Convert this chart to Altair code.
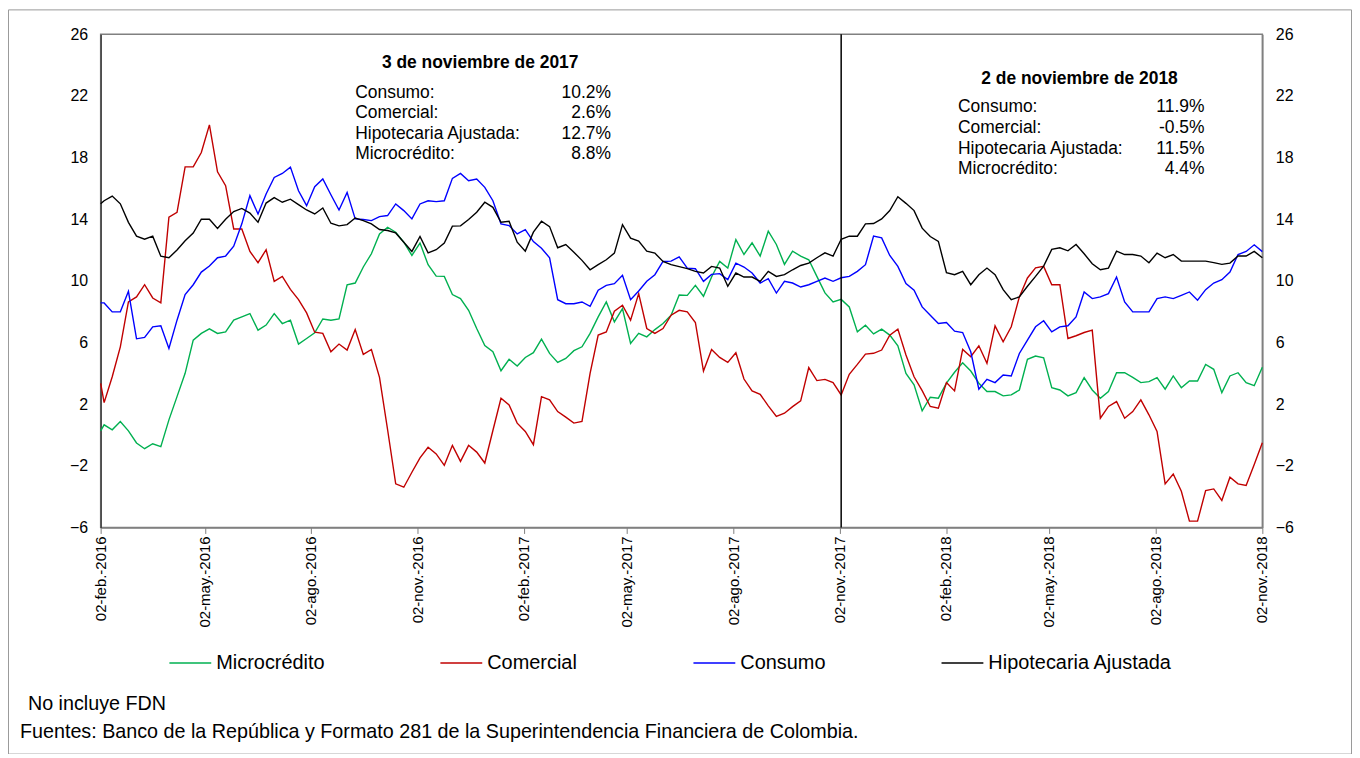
import altair as alt
import pandas as pd

# ---------------- data ----------------
# first point at the left edge (02-feb-2016), then weekly Fridays to 02-nov-2018
fechas = ["2016-02-02"] + [d.strftime("%Y-%m-%d") for d in pd.date_range("2016-02-05", "2018-11-02", freq="7D")]

hipotecaria = [15.0,
    15.2, 15.5, 15.0, 13.8, 12.9, 12.7, 12.9, 11.6, 11.5, 12.0, 12.6, 13.1,
    14.0, 14.0, 13.4, 14.0, 14.5, 14.7, 14.4, 13.8, 15.05, 15.4, 15.1, 15.3,
    14.95, 14.6, 14.34, 14.73, 13.74, 13.57, 13.65, 14.08, 13.91, 13.7, 13.33, 13.27,
    13.11, 12.51, 11.91, 12.88, 11.82, 12.02, 12.45, 13.55, 13.57, 13.98, 14.45, 15.1,
    14.77, 13.8, 13.87, 12.51, 11.93, 13.16, 13.87, 13.52, 12.15, 12.36, 11.86, 11.33,
    10.72, 11.05, 11.37, 11.8, 13.65, 12.77, 12.58, 11.93, 11.8, 11.26, 11.05, 10.92,
    10.79, 10.62, 10.51, 10.94, 10.83, 9.65, 10.51, 10.25, 10.25, 9.97, 10.62, 10.29,
    10.4, 10.72, 11.0, 11.15, 11.5, 11.82, 11.61, 12.7, 12.9, 12.9, 13.7, 13.72,
    14.02, 14.56, 15.46, 15.03, 14.56, 13.42, 12.88, 12.56, 10.53, 10.4, 10.62, 9.75,
    10.4, 10.83, 10.4, 9.43, 8.78, 8.96, 9.65, 10.29, 10.96, 12.04, 12.15, 11.95,
    12.36, 11.76, 11.11, 10.72, 10.83, 11.93, 11.71, 11.71, 11.61, 11.18, 11.8, 11.5,
    11.71, 11.28, 11.28, 11.28, 11.28, 11.18, 11.07, 11.15, 11.61, 11.61, 11.91, 11.5]

consumo = [8.57,
    8.57, 7.99, 7.99, 9.32, 6.24, 6.33, 7.02, 7.08, 5.62, 7.45, 9.11, 9.75,
    10.57, 10.96, 11.5, 11.61, 12.25, 13.7, 15.53, 14.34, 15.64, 16.71, 16.97, 17.38,
    15.85, 14.88, 16.11, 16.61, 15.59, 14.6, 15.74, 14.02, 13.98, 13.91, 14.17, 14.24,
    14.99, 14.56, 14.02, 14.99, 15.2, 15.14, 15.2, 16.65, 16.97, 16.5, 16.61, 16.07,
    15.2, 13.7, 13.59, 13.05, 13.33, 12.55, 12.12, 11.5, 8.78, 8.52, 8.52, 8.63,
    8.35, 9.39, 9.71, 9.82, 10.36, 8.78, 9.34, 9.97, 10.4, 11.26, 11.28, 11.56,
    10.83, 10.79, 9.97, 10.42, 10.47, 10.08, 11.15, 10.9, 10.51, 9.86, 10.14, 9.21,
    9.97, 9.86, 9.6, 9.75, 9.97, 10.18, 9.97, 10.2, 10.29, 10.62, 11.05, 12.9,
    12.79, 11.65, 10.94, 9.82, 9.39, 8.31, 7.77, 7.23, 7.3, 6.74, 6.65, 5.4,
    2.97, 3.61, 3.4, 3.89, 3.83, 5.29, 6.16, 7.02, 7.41, 6.69, 7.02, 7.09,
    7.66, 9.28, 8.85, 8.96, 9.17, 10.25, 8.63, 7.99, 7.99, 7.99, 8.85, 8.96,
    8.85, 9.06, 9.28, 8.74, 9.43, 9.86, 10.08, 10.57, 11.71, 11.91, 12.34, 11.9]

comercial = [3.35,
    2.1, 3.78, 5.72, 8.63, 8.96, 9.75, 8.89, 8.57, 14.13, 14.45, 17.4, 17.4,
    18.33, 20.12, 17.08, 16.18, 13.37, 13.37, 11.91, 11.18, 12.02, 9.97, 10.29, 9.45,
    8.78, 7.92, 6.67, 6.59, 5.4, 5.9, 5.51, 6.84, 5.23, 5.55, 3.74, 0.34,
    -3.17, -3.39, -2.42, -1.49, -0.8, -1.23, -1.97, -0.67, -1.71, -0.67, -1.11, -1.82,
    0.29, 2.38, 1.95, 0.77, 0.23, -0.63, 2.49, 2.28, 1.52, 1.16, 0.77, 0.88,
    4.0, 6.48, 6.69, 8.03, 8.42, 7.45, 9.17, 6.91, 6.59, 6.91, 7.77, 8.09,
    7.99, 7.3, 4.15, 5.55, 5.03, 4.71, 5.34, 3.63, 2.86, 2.64, 1.89, 1.2,
    1.41, 1.84, 2.21, 4.37, 3.53, 3.61, 3.4, 2.6, 3.94, 4.58, 5.25, 5.3,
    5.51, 6.48, 6.87, 5.19, 3.78, 2.88, 1.85, 1.74, 3.4, 2.86, 5.55, 5.08,
    5.79, 4.65, 7.08, 6.05, 7.02, 8.96, 10.19, 10.85, 10.94, 9.75, 9.75, 6.26,
    6.44, 6.65, 6.8, 1.09, 1.85, 2.17, 1.09, 1.52, 2.28, 1.31, 0.23, -3.17,
    -2.53, -3.65, -5.59, -5.59, -3.61, -3.5, -4.25, -2.74, -3.17, -3.28, -1.92, -0.5]

microcredito = [0.27,
    0.66, 0.34, 0.88, 0.27, -0.52, -0.89, -0.57, -0.76, 0.98, 2.49, 4.0, 6.15,
    6.59, 6.89, 6.59, 6.69, 7.45, 7.66, 7.88, 6.8, 7.13, 7.88, 7.23, 7.45,
    5.9, 6.26, 6.63, 7.53, 7.45, 7.53, 9.75, 9.86, 10.9, 11.76, 13.05, 13.48,
    13.16, 12.51, 11.65, 12.45, 11.05, 10.31, 10.29, 9.11, 8.85, 8.09, 6.91, 5.8,
    5.4, 4.17, 4.91, 4.47, 5.03, 5.34, 6.22, 5.29, 4.71, 4.97, 5.47, 5.72,
    6.59, 7.66, 8.63, 7.34, 8.2, 5.94, 6.59, 6.37, 6.84, 7.23, 7.77, 9.08,
    9.06, 9.71, 9.0, 10.25, 11.26, 10.83, 12.68, 11.71, 12.47, 11.61, 13.22, 12.36,
    11.07, 11.93, 11.61, 11.37, 10.29, 9.22, 8.63, 8.8, 8.31, 6.69, 7.12, 6.56,
    6.87, 6.48, 5.79, 4.0, 3.25, 1.57, 2.45, 2.39, 3.36, 4.07, 4.69, 4.15,
    3.36, 2.82, 2.82, 2.54, 2.6, 2.92, 4.91, 5.12, 5.01, 3.07, 2.92, 2.54,
    2.75, 3.72, 2.92, 2.38, 2.82, 4.04, 4.04, 3.74, 3.4, 3.46, 3.72, 2.97,
    3.83, 3.07, 3.5, 3.5, 4.58, 4.26, 2.75, 3.83, 4.04, 3.4, 3.2, 4.4]

series_names = ["Microcrédito", "Comercial", "Consumo", "Hipotecaria Ajustada"]
series_colors = ["#00B050", "#C00000", "#0000FF", "#000000"]

tick_dates = ["2016-02-02", "2016-05-02", "2016-08-02", "2016-11-02",
              "2017-02-02", "2017-05-02", "2017-08-02", "2017-11-02",
              "2018-02-02", "2018-05-02", "2018-08-02", "2018-11-02"]
short_months = ["ene", "feb", "mar", "abr", "may", "jun", "jul", "ago", "sep", "oct", "nov", "dic"]
y_ticks = [-6, -2, 2, 6, 10, 14, 18, 22, 26]
marker_date = "2017-11-03"

# annotation boxes
ann_labels = ["Consumo:", "Comercial:", "Hipotecaria Ajustada:", "Microcrédito:"]
ann1_title = "3 de noviembre de 2017"
ann1_values = ["10.2%", "2.6%", "12.7%", "8.8%"]
ann2_title = "2 de noviembre de 2018"
ann2_values = ["11.9%", "-0.5%", "11.5%", "4.4%"]
ann1_y = [22.19, 20.89, 19.54, 18.24]
ann2_y = [21.28, 19.92, 18.53, 17.27]
nota = "No incluye FDN"
fuentes = "Fuentes: Banco de la República y Formato 281 de la Superintendencia Financiera de Colombia."

# ---------------- tables ----------------
def ts(s):
    return s + "T00:00:00Z"

def ms(s):
    return int(pd.Timestamp(s).value // 10**6)

def tick_label(s):
    y, m, d = s.split("-")
    return f"{d}-{short_months[int(m) - 1]}.-{y}"

rows = []
for name, vals in zip(series_names, [microcredito, comercial, consumo, hipotecaria]):
    for f, v in zip(fechas, vals):
        rows.append({"fecha": ts(f), "serie": name, "valor": v})
df = pd.DataFrame(rows)

ticks_df = pd.DataFrame({"fecha": [ts(t) for t in tick_dates],
                         "etiqueta": [tick_label(t) for t in tick_dates]})

x_scale = alt.Scale(type="utc", domain=[ms(tick_dates[0]), ms(tick_dates[-1])])
y_scale = alt.Scale(domain=[y_ticks[0], y_ticks[-1]], nice=False, zero=False)

font = "Liberation Sans, Arial, sans-serif"

x_axis = alt.Axis(values=[ms(t) for t in tick_dates], labels=False, tickSize=6,
                  tickColor="#808080", domainColor="#808080", domainWidth=1.5,
                  title=None, grid=False)

left_axis = alt.Axis(values=y_ticks, orient="left", ticks=False, labelPadding=13,
                     labelFontSize=16, labelFont=font, domainColor="#404040",
                     domainWidth=1.5, title=None, grid=False)
right_axis = alt.Axis(values=y_ticks, orient="right", ticks=False, labelPadding=13,
                      labelFontSize=16, labelFont=font, domainColor="#808080",
                      domainWidth=1.5, title=None, grid=False)

legend = alt.Legend(orient="none", legendX=68, legendY=609, direction="horizontal",
                    columns=4, title=None, symbolType="stroke", symbolSize=1764,
                    symbolStrokeWidth=1.5, labelFontSize=20, labelFont=font,
                    labelOffset=4, columnPadding=113, labelLimit=400, padding=0)

X = lambda: alt.X("fecha:T", scale=x_scale)
Y = lambda: alt.Y("valor:Q", scale=y_scale, axis=None)

base = alt.Chart(df)

lines = base.mark_line(strokeWidth=1.4).encode(
    x=alt.X("fecha:T", scale=x_scale, axis=x_axis),
    y=alt.Y("valor:Q", scale=y_scale, axis=left_axis),
    color=alt.Color("serie:N", scale=alt.Scale(domain=series_names, range=series_colors),
                    legend=legend, sort=series_names),
)

right = base.mark_line(opacity=0).encode(
    x=X(),
    y=alt.Y("valor:Q", scale=y_scale, axis=right_axis),
    detail="serie:N",
)

# rotated date labels under the ticks
xlabels = alt.Chart(ticks_df).mark_text(
    angle=270, align="right", baseline="middle", font=font, fontSize=15, color="black"
).encode(x=X(), y=alt.value(504), text="etiqueta:N")

vline = alt.Chart(pd.DataFrame({"fecha": [ts(marker_date)]})).mark_rule(
    color="black", strokeWidth=1.5).encode(x=X())

def ann_layer(title, title_date, title_y, label_date, value_date, ys, values):
    t = alt.Chart(pd.DataFrame({"fecha": [ts(title_date)], "valor": [title_y], "t": [title]})).mark_text(
        align="center", baseline="middle", font=font, fontSize=17.5, fontWeight="bold", color="black"
    ).encode(x=X(), y=Y(), text="t:N")
    lab = alt.Chart(pd.DataFrame({"fecha": [ts(label_date)] * 4, "valor": ys, "t": ann_labels})).mark_text(
        align="left", baseline="middle", font=font, fontSize=17.5, color="black"
    ).encode(x=X(), y=Y(), text="t:N")
    val = alt.Chart(pd.DataFrame({"fecha": [ts(value_date)] * 4, "valor": ys, "t": values})).mark_text(
        align="right", baseline="middle", font=font, fontSize=17.5, color="black"
    ).encode(x=X(), y=Y(), text="t:N")
    return [t, lab, val]

ann1 = ann_layer(ann1_title, "2016-12-26", 24.13, "2016-09-09", "2017-04-18", ann1_y, ann1_values)
ann2 = ann_layer(ann2_title, "2018-05-28", 23.09, "2018-02-12", "2018-09-13", ann2_y, ann2_values)

foot1 = alt.Chart(pd.DataFrame({"t": [nota]})).mark_text(
    align="left", baseline="middle", font=font, fontSize=19.8, color="black"
).encode(text="t:N", x=alt.value(-73), y=alt.value(672))
foot2 = alt.Chart(pd.DataFrame({"t": [fuentes]})).mark_text(
    align="left", baseline="middle", font=font, fontSize=19.8, color="black"
).encode(text="t:N", x=alt.value(-81), y=alt.value(700))

frame = alt.Chart(pd.DataFrame({"k": [0]})).mark_rect(
    fill=None, stroke="#9a9a9a", strokeWidth=1).encode(
    x=alt.value(-92.5), x2=alt.value(1255.5), y=alt.value(-24.5), y2=alt.value(722.5))

chart = alt.layer(lines, right, xlabels, vline, *ann1, *ann2, foot1, foot2, frame).resolve_scale(
    y="shared", x="shared"
).resolve_axis(y="independent").properties(
    width=1166, height=495,
    padding={"left": 93, "top": 25, "right": 90, "bottom": 226},
    autosize=alt.AutoSizeParams(type="none"),
).configure_view(stroke="#808080", strokeWidth=1.5).configure_axis(labelColor="black")

chart.save("out.html", embed_options={"renderer": "svg", "actions": False})
